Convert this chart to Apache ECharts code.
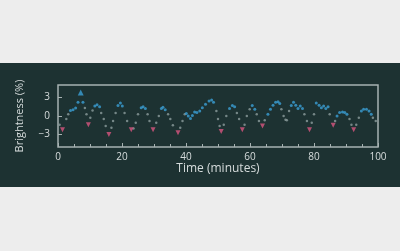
<!DOCTYPE html>
<html><head><meta charset="utf-8">
<script src="https://cdn.jsdelivr.net/npm/echarts@6/dist/echarts.min.js"></script>
<style>
html,body{margin:0;padding:0;background:#ededed;}
#panel{position:absolute;left:0;top:63px;width:400px;height:124px;background:#1d3232;}
#c{position:absolute;left:0;top:0;width:400px;height:251px;}
</style></head>
<body><div id="panel"></div><div id="c"></div>
<script>
const xTicks = [0, 20, 40, 60, 80, 100];
const yTicks = [-3, 0, 3];
const bluePts = [[3.9,0.9],[4.7,1.0],[5.5,1.3],[6.25,2.2],[7.8,2.2],[11.5,1.6],[12.2,1.8],[13.0,1.5],[18.75,1.7],[19.5,2.1],[20.1,1.6],
  [26.0,1.35],[26.6,1.5],[27.3,1.2],[32.3,1.2],[32.8,1.4],[33.5,1.0],[40.1,0.4],[40.7,0.0],[41.4,-0.4],[42.0,0.1],[42.7,0.65],[43.4,0.55],
  [44.3,0.8],[45.1,1.35],[46.1,1.9],[47.2,2.4],[48.0,2.6],[48.6,2.2],[53.6,1.2],[54.5,1.7],[55.2,1.5],[60.7,1.7],[61.5,1.1],
  [65.6,0.3],[66.4,1.1],[67.2,1.75],[68.0,2.2],[68.75,2.3],[69.3,2.0],[72.9,1.7],[73.6,2.2],[74.3,1.75],[75.0,1.2],[75.7,1.6],[76.4,1.2],
  [80.7,2.1],[81.6,1.75],[82.3,1.35],[83.0,1.6],[83.7,1.2],[84.4,1.5],[87.2,0.0],[88.0,0.55],[88.9,0.65],[89.6,0.55],[90.3,0.3],
  [94.8,0.8],[95.5,1.1],[96.4,1.1],[97.2,0.8],[97.9,0.3]];
const grayPts = [[0.5,-1.4],[2.6,-0.5],[3.2,0.3],[8.4,1.3],[8.9,0.3],[10.1,-0.3],[10.8,0.9],[13.5,0.5],[14.3,-0.5],[14.9,-1.6],
  [16.7,-1.9],[17.2,-0.8],[18.0,0.5],[20.8,0.5],[21.6,-0.8],[23.6,-2.0],[24.3,-1.1],[25.0,0.3],[28.0,0.3],[28.6,-0.8],[30.7,-1.1],
  [31.5,0.0],[34.4,0.3],[35.1,-0.5],[35.9,-1.5],[38.2,-1.9],[38.9,-0.8],[39.6,0.3],[49.5,0.8],[50.0,-0.5],[50.5,-1.6],[51.8,-1.4],
  [52.6,0.0],[55.9,0.5],[56.6,-0.5],[58.3,-1.4],[59.0,0.0],[59.9,1.1],[62.1,0.3],[62.8,-0.8],[64.6,-0.7],[69.8,1.1],[70.5,0.0],
  [71.1,-0.6],[71.5,-0.7],[72.2,0.8],[77.0,0.3],[77.8,-0.8],[79.3,-1.1],[80.0,0.3],[84.9,0.3],[86.6,-0.8],[91.1,-0.5],[91.7,-1.4],
  [93.2,-1.4],[94.0,-0.3],[98.4,-0.3],[99.3,-0.8]];
const pinkPts = [[1.4,-2.2],[9.5,-1.4],[15.9,-3.0],[22.9,-2.2],[29.7,-2.2],[37.5,-2.7],[51.0,-2.5],[57.6,-2.2],[63.9,-1.6],
  [78.6,-2.2],[86.0,-1.5],[92.4,-2.2]];
const peakPts = [[7.1,3.8]];

const chart = echarts.init(document.getElementById('c'), null, {renderer:'canvas'});
const txt = '#d6dcdc', line = '#a7b2b2';
chart.setOption({
  backgroundColor: 'transparent',
  animation: false,
  grid: {left:58, right:22, top:85, height:62, show:true, borderColor:line, borderWidth:1.5, backgroundColor:'transparent'},
  xAxis: {type:'value', min:0, max:100, interval:20,
    name:'Time (minutes)', nameLocation:'middle', nameGap:16,
    nameTextStyle:{color:txt, fontSize:12, fontFamily:'Open Sans'},
    axisLine:{show:false, onZero:false}, splitLine:{show:false},
    axisTick:{show:true, inside:true, length:4, lineStyle:{color:line}},
    minorTick:{show:true, splitNumber:4, length:3, lineStyle:{color:line}},
    axisLabel:{color:txt, fontSize:10, fontFamily:'Open Sans', margin:5, customValues:xTicks}},
  yAxis: {type:'value', min:-5, max:5,
    name:'Brightness (%)', nameLocation:'middle', nameGap:33, nameRotate:90,
    nameTextStyle:{color:txt, fontSize:11, fontFamily:'Open Sans'},
    axisLine:{show:false, onZero:false}, splitLine:{show:false},
    axisTick:{show:true, inside:true, length:4, lineStyle:{color:line}, customValues:yTicks},
    axisLabel:{color:txt, fontSize:10, fontFamily:'Open Sans', margin:8, customValues:yTicks,
      formatter: v => v < 0 ? '\u2212' + Math.abs(v) : String(v)}},
  series: [
    {type:'scatter', data:grayPts, symbolSize:2.5, itemStyle:{color:'#8c9c9c'}},
    {type:'scatter', data:bluePts, symbolSize:3, itemStyle:{color:'#3b9fd4'}},
    {type:'scatter', data:pinkPts, symbol:'triangle', symbolRotate:180, symbolSize:5, itemStyle:{color:'#d8557f'}},
    {type:'scatter', data:peakPts, symbol:'triangle', symbolSize:6, itemStyle:{color:'#3b9fd4'}}
  ]
});
</script></body></html>
